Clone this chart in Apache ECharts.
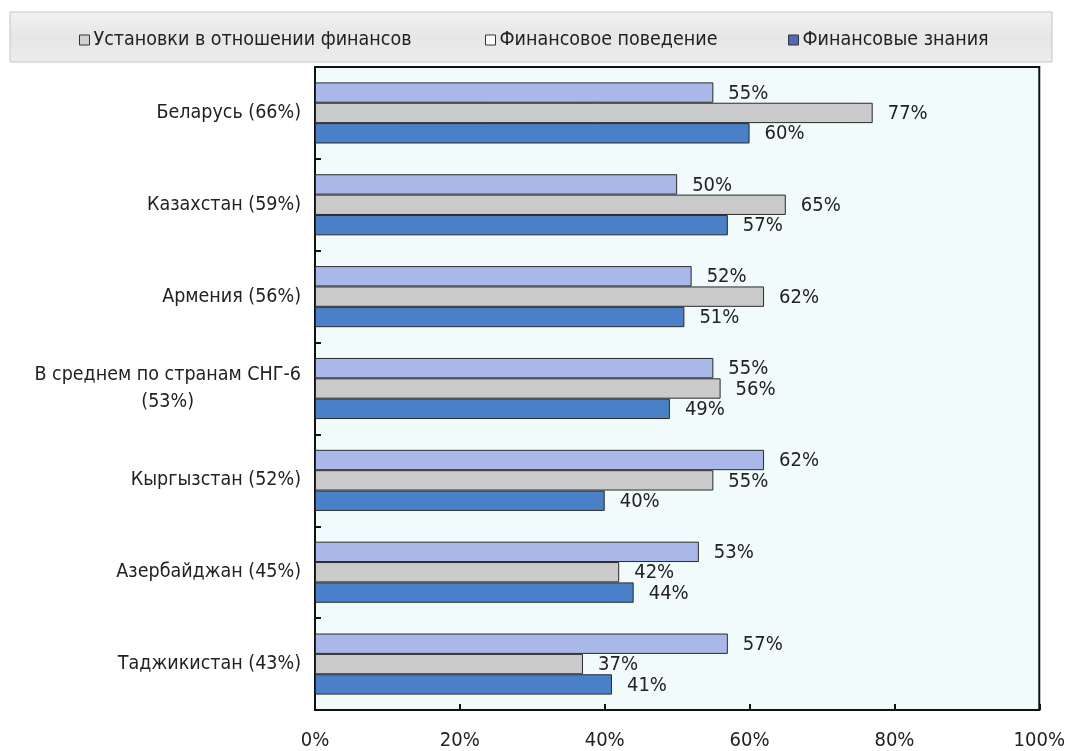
<!DOCTYPE html>
<html>
<head>
<meta charset="utf-8">
<script src="https://cdn.jsdelivr.net/npm/echarts@6/dist/echarts.min.js"></script>
<style>
  html, body { margin: 0; padding: 0; background: #ffffff; }
  #chart { width: 1068px; height: 751px; }
</style>
</head>
<body>
<div id="chart"></div>
<script>
// Countries (overall score in brackets), top to bottom
const categories = [
  'Беларусь (66%)',
  'Казахстан (59%)',
  'Армения (56%)',
  'В среднем по странам СНГ-6\n(53%)',
  'Кыргызстан (52%)',
  'Азербайджан (45%)',
  'Таджикистан (43%)'
];

const seriesNames = [
  'Установки в отношении финансов',
  'Финансовое поведение',
  'Финансовые знания'
];

// Component scores, %
const attitudes = [55, 50, 52, 55, 62, 53, 57];
const behaviour = [77, 65, 62, 56, 55, 42, 37];
const knowledge = [60, 57, 51, 49, 40, 44, 41];

const xTicks = [0, 20, 40, 60, 80, 100];

const FONT = '"DejaVu Sans Condensed", "Liberation Sans Narrow", "Liberation Sans", sans-serif';
const barColors = ['#a9b8e8', '#cacaca', '#4a80c8'];
const legendIconColors = ['#d2d2d6', '#ffffff', '#5068b8'];
const legendLefts = [79, 485, 788];

const chart = echarts.init(document.getElementById('chart'), null, { renderer: 'canvas' });

function makeSeries(name, data, idx) {
  return {
    name: name,
    type: 'bar',
    data: data,
    barGap: '0%',
    barCategoryGap: '33.5%',
    itemStyle: { color: barColors[idx], borderColor: '#2a2a2a', borderWidth: 1 },
    label: {
      show: true,
      position: 'right',
      distance: 15,
      offset: [0, 1],
      formatter: '{c}%',
      color: '#222',
      fontFamily: FONT,
      fontSize: 20
    },
    emphasis: { disabled: true },
    animation: false
  };
}

const option = {
  animation: false,
  backgroundColor: '#ffffff',
  graphic: [{
    type: 'rect',
    shape: { x: 10, y: 12, width: 1042, height: 50 },
    style: {
      fill: new echarts.graphic.LinearGradient(0, 0, 0, 1, [
        { offset: 0, color: '#f2f2f2' },
        { offset: 0.5, color: '#e6e6e6' },
        { offset: 1, color: '#ececec' }
      ]),
      stroke: '#c4c4c4',
      lineWidth: 1
    },
    z: -10,
    silent: true
  }],
  legend: seriesNames.map((n, i) => ({
    data: [{ name: n, itemStyle: { color: legendIconColors[i], borderColor: '#333', borderWidth: 1 } }],
    left: legendLefts[i],
    top: 30,
    icon: 'rect',
    itemWidth: 10,
    itemHeight: 10,
    itemGap: 0,
    padding: 0,
    selectedMode: false,
    textStyle: { fontFamily: FONT, fontSize: 19.5, color: '#222', padding: [0, 0, 0, -1] }
  })),
  grid: {
    left: 315,
    right: 26,
    top: 67,
    bottom: 41,
    show: true,
    backgroundColor: '#f1fbfc',
    borderColor: '#111',
    borderWidth: 2
  },
  xAxis: {
    type: 'value',
    min: xTicks[0],
    max: xTicks[xTicks.length - 1],
    interval: 20,
    axisLine: { show: true, lineStyle: { color: '#111', width: 2 } },
    axisTick: { show: true, inside: true, length: 6, lineStyle: { color: '#111', width: 2 } },
    splitLine: { show: false },
    axisLabel: {
      formatter: '{value}%',
      fontFamily: FONT,
      fontSize: 20,
      color: '#222',
      margin: 21
    }
  },
  yAxis: {
    type: 'category',
    data: categories,
    inverse: true,
    axisLine: { show: true, lineStyle: { color: '#111', width: 2 } },
    axisTick: { show: true, inside: true, length: 6, lineStyle: { color: '#111', width: 2 } },
    axisLabel: {
      fontFamily: FONT,
      fontSize: 19.5,
      color: '#222',
      margin: 14,
      align: 'right',
      // each line centred inside the label block
      formatter: (v) => v.split('\n').map(s => '{c|' + s + '}').join('\n'),
      rich: {
        c: { align: 'center', fontFamily: FONT, fontSize: 19.5, color: '#222', lineHeight: 27 }
      }
    }
  },
  series: [
    makeSeries(seriesNames[0], attitudes, 0),
    makeSeries(seriesNames[1], behaviour, 1),
    makeSeries(seriesNames[2], knowledge, 2)
  ]
};

chart.setOption(option);
</script>
</body>
</html>
